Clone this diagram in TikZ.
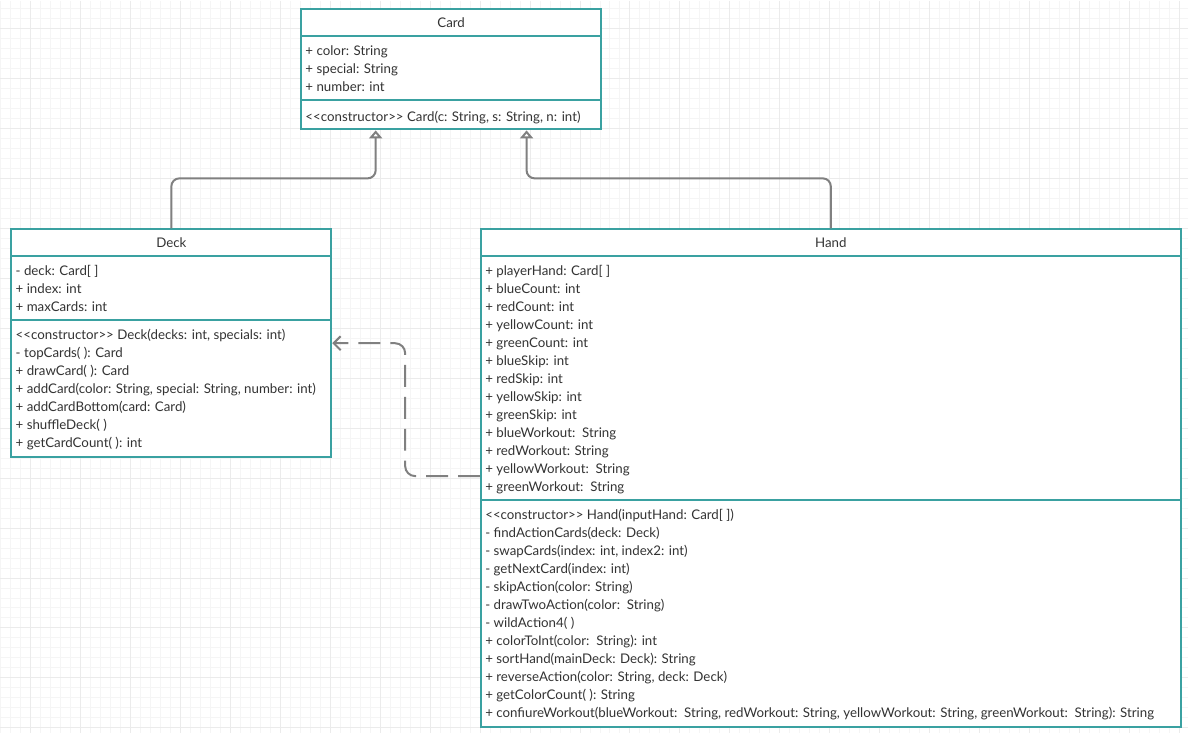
\documentclass[tikz,border=0pt]{standalone}
\usepackage{fontspec}
\setmainfont{Lato}
\usetikzlibrary{arrows.meta,calc}
\definecolor{boxline}{HTML}{3AA1A1}
\definecolor{conn}{HTML}{808080}
\definecolor{ink}{HTML}{333333}
\definecolor{gridminor}{HTML}{F5F5F5}
\definecolor{gridmajor}{HTML}{EBEBEB}

\begin{document}
\begin{tikzpicture}[x=1pt,y=-1pt,
  classbox/.style={draw=boxline, line width=2pt, fill=white, rectangle, inner sep=0pt, anchor=north west},
  divider/.style={draw=boxline, line width=2pt},
  member/.style={anchor=base west, inner sep=0pt, text=ink, font=\fontsize{13.3}{16}\selectfont},
  classtitle/.style={anchor=base, inner sep=0pt, text=ink, font=\fontsize{13.3}{16}\selectfont},
  inh/.style={draw=conn, line width=2pt, rounded corners=8pt,
    -{Triangle[open, fill=white, width=13pt, length=8pt]}},
  dep/.style={draw=conn, line width=2pt, rounded corners=10pt, dash pattern=on 22pt off 10pt,
    -{Straight Barb[width=14pt, length=7pt]}}
]
% background grid
\fill[white] (0,0) rectangle (1188,733);
\draw[gridminor, line width=1pt] foreach \x in {0,10,...,1180} {(\x,0) -- (\x,733)};
\draw[gridminor, line width=1pt] foreach \y in {8,18,...,728} {(0,\y) -- (1188,\y)};
\draw[gridmajor, line width=1pt] foreach \x in {30,80,...,1180} {(\x,0) -- (\x,733)};
\draw[gridmajor, line width=1pt] foreach \y in {28,78,...,728} {(0,\y) -- (1188,\y)};
\useasboundingbox (0,0) rectangle (1188,733);

% class Card
\node[classbox, minimum width=300pt, minimum height=120pt] (card) at (300,8) {};
\draw[divider] ($(card.north west)+(0,28)$) -- ($(card.north east)+(0,28)$);
\draw[divider] ($(card.north west)+(0,92)$) -- ($(card.north east)+(0,92)$);
\node[classtitle] (card-t) at ($(card.north)+(0,19.5)$) {Card};
\foreach [count=\i] \t in {+ color: String, + special: String, + number: int}
  \node[member] (card-a\i) at ($(card.north west)+(5,29.5+18*\i)$) {\t};
\node[member] (card-m1) at ($(card.north west)+(5,113.5)$) {<{}<constructor>{}> Card(c: String, s: String, n: int)};

% class Deck
\node[classbox, minimum width=320pt, minimum height=228pt] (deck) at (10,228) {};
\draw[divider] ($(deck.north west)+(0,28)$) -- ($(deck.north east)+(0,28)$);
\draw[divider] ($(deck.north west)+(0,92)$) -- ($(deck.north east)+(0,92)$);
\node[classtitle] (deck-t) at ($(deck.north)+(0,19.5)$) {Deck};
\foreach [count=\i] \t in {- deck: Card[ ], + index: int, + maxCards: int}
  \node[member] (deck-a\i) at ($(deck.north west)+(5,29.5+18*\i)$) {\t};
\foreach [count=\i] \t in {
  {<{}<constructor>{}> Deck(decks: int, specials: int)},
  - topCards( ): Card,
  + drawCard( ): Card,
  {+ addCard(color: String, special: String, number: int)},
  + addCardBottom(card: Card),
  + shuffleDeck( ),
  + getCardCount( ): int}
  \node[member] (deck-m\i) at ($(deck.north west)+(5,93.5+18*\i)$) {\t};

% class Hand
\node[classbox, minimum width=700pt, minimum height=498pt] (hand) at (480,228) {};
\draw[divider] ($(hand.north west)+(0,28)$) -- ($(hand.north east)+(0,28)$);
\draw[divider] ($(hand.north west)+(0,272)$) -- ($(hand.north east)+(0,272)$);
\node[classtitle] (hand-t) at ($(hand.north)+(0,19.5)$) {Hand};
\foreach [count=\i] \t in {
  + playerHand: Card[ ],
  + blueCount: int,
  + redCount: int,
  + yellowCount: int,
  + greenCount: int,
  + blueSkip: int,
  + redSkip: int,
  + yellowSkip: int,
  + greenSkip: int,
  + blueWorkout:\ \ String,
  + redWorkout: String,
  + yellowWorkout:\ \ String,
  + greenWorkout:\ \ String}
  \node[member] (hand-a\i) at ($(hand.north west)+(5,29.5+18*\i)$) {\t};
\foreach [count=\i] \t in {
  {<{}<constructor>{}> Hand(inputHand: Card[ ])},
  - findActionCards(deck: Deck),
  {- swapCards(index: int, index2: int)},
  - getNextCard(index: int),
  - skipAction(color: String),
  - drawTwoAction(color:\ \ String),
  - wildAction4( ),
  + colorToInt(color:\ \ String): int,
  + sortHand(mainDeck: Deck): String,
  {+ reverseAction(color: String, deck: Deck)},
  + getColorCount( ): String,
  {+ confiureWorkout(blueWorkout:\ \ String, redWorkout: String, yellowWorkout: String, greenWorkout:\ \ String): String}}
  \node[member] (hand-m\i) at ($(hand.north west)+(5,273.5+18*\i)$) {\t};

% generalisation arrows
\coordinate (cardL) at ($(card.south west)!0.25!(card.south east)$);
\coordinate (cardR) at ($(card.south west)!0.75!(card.south east)$);
\draw[inh] (deck.north) -- ++(0,-50) -| (cardL);
\draw[inh] (hand.north) -- ++(0,-50) -| (cardR);

% dependency Hand -> Deck
\coordinate (hs) at ($(hand.north west)+(0,248)$);
\coordinate (dt) at ($(deck.north east)+(0,115)$);
\draw[dep] (hs) -- ++(-75,0) |- (dt);
\end{tikzpicture}
\end{document}
